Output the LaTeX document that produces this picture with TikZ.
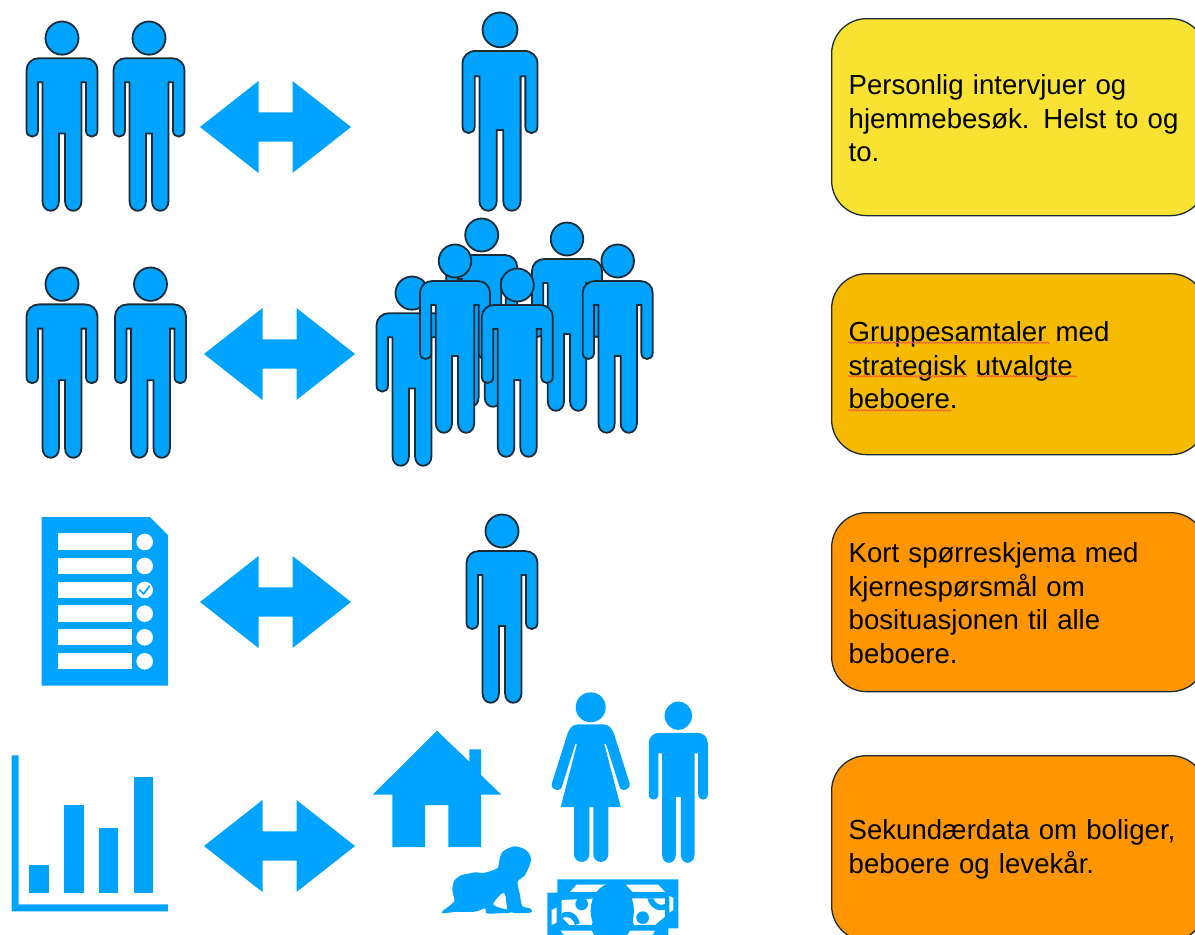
\documentclass[tikz,border=0pt]{standalone}
\usepackage{fontspec}
\setmainfont{Liberation Sans}
\usetikzlibrary{decorations.pathmorphing}
\definecolor{iconblue}{HTML}{00A4FF}
\definecolor{edgedark}{HTML}{1C2B38}
\definecolor{boxyellow}{HTML}{F9E231}
\definecolor{boxamber}{HTML}{F6BA00}
\definecolor{boxorange}{HTML}{FF9500}
\definecolor{spell}{HTML}{F0603A}
\tikzset{
  x=1pt,y=-1pt,
  icon/.style={fill=iconblue,draw=none},
  outlined/.style={fill=iconblue,draw=edgedark,line width=1.8pt},
  infobox/.style={draw=edgedark,line width=1.3pt,rounded corners=35pt,anchor=north west,
    text width=340pt,inner xsep=17pt,inner ysep=0pt,align=left,font=\fontsize{27.6}{33.5}\selectfont,
    text=black,execute at end node={\par\vspace{-2pt}}},
  squiggle/.style={draw=spell,line width=.8pt,decorate,decoration={zigzag,amplitude=.8pt,segment length=3pt}},
  hole/.style={fill=white,draw=none}
}
% person icon: #1 style, #2 centre x, #3 top y, #4 width, #5 height
\newcommand{\personicon}[5]{%
  \begin{scope}[shift={(#2,#3)},xscale=#4/71,yscale=#5/188]
    \path[#1] (0,16) ellipse [x radius=16.5,y radius=16.5];
    \path[#1] (-23,36) -- (23,36) .. controls (30,36) and (35.5,41) .. (35.5,48)
      -- (35.5,108) .. controls (35.5,116) and (24,116) .. (24,108)
      -- (24,60) -- (19.5,60) -- (19.5,178) .. controls (19.5,191) and (3,191) .. (3,178)
      -- (3,111) -- (-3,111) -- (-3,178) .. controls (-3,191) and (-19.5,191) .. (-19.5,178)
      -- (-19.5,60) -- (-24,60) -- (-24,108) .. controls (-24,116) and (-35.5,116) .. (-35.5,108)
      -- (-35.5,48) .. controls (-35.5,41) and (-30,36) .. (-23,36) -- cycle;
  \end{scope}}
% double arrow: #1 centre x, #2 centre y
\newcommand{\twoway}[2]{%
  \path[icon,shift={(#1,#2)}] (-75.5,0) -- (-17,-46) -- (-17,-14.7) -- (17,-14.7) -- (17,-46)
    -- (75.5,0) -- (17,46) -- (17,14.7) -- (-17,14.7) -- (-17,46) -- cycle;}
\newcommand{\chkrow}[3]{%
  \path[hole] (57.7,#1) rectangle (131.7,#2);
  \path[hole] (144.7,#3) circle [radius=8.3];}
\begin{document}
\begin{tikzpicture}
\useasboundingbox (0,0) rectangle (1195,935);
\clip (0,0) rectangle (1195,935);
% row 1
\personicon{outlined}{62}{22}{71}{189}
\personicon{outlined}{149}{22}{71}{189}
\personicon{outlined}{500}{13}{75}{198}
\twoway{275.5}{127}
% row 2
\personicon{outlined}{62}{268}{71}{190}
\personicon{outlined}{150.5}{268}{71}{190}
\twoway{279.5}{354}
\personicon{outlined}{481.7}{219}{71}{188}
\personicon{outlined}{412}{277}{71}{189}
\personicon{outlined}{567}{223}{70}{188}
\personicon{outlined}{455}{245}{70}{188}
\personicon{outlined}{617.7}{245}{70}{188}
\personicon{outlined}{517.3}{269}{71}{188}
% row 3: questionnaire
\path[icon] (41.7,517) -- (150,517) -- (168,535) -- (168,685.7) -- (41.7,685.7) -- cycle;
\chkrow{533.3}{550.3}{542}
\chkrow{557.7}{574}{566}
\chkrow{581.7}{598}{590}
\chkrow{605.3}{621.7}{613.7}
\chkrow{629.3}{645.3}{637.3}
\chkrow{653}{669.3}{661.3}
\path[draw=iconblue,line width=1.7pt,line cap=round,line join=round] (139.5,590) -- (143.5,594) -- (149.5,586);
\twoway{275.5}{602}
\personicon{outlined}{502}{515}{71}{188}
% row 4: chart
\path[icon] (11.7,755.3) -- (18.7,755.3) -- (18.7,904.3) -- (168,904.3) -- (168,911.3) -- (11.7,911.3) -- cycle;
\path[icon] (29.3,865) rectangle (49,893);
\path[icon] (64.3,805) rectangle (83.7,893);
\path[icon] (99,828.3) rectangle (118.3,893);
\path[icon] (133.7,777) rectangle (153,893);
\twoway{279.5}{846}
% house
\path[icon] (437,730.7) -- (469.3,761.7) -- (469.3,749.3) -- (481,749.3) -- (481,775) -- (501.3,794.7)
  -- (481,794.7) -- (481,847) -- (448.3,847) -- (448.3,805) -- (425,805) -- (425,847) -- (392.3,847)
  -- (392.3,794.7) -- (372.7,794.7) -- cycle;
% woman
\path[icon] (590.7,707.3) circle [radius=15];
\path[icon] (578,724.3) -- (603.3,724.3) .. controls (609,724.3) and (613,729) .. (615,737)
  -- (629.5,783) .. controls (631,790) and (622,792) .. (620,788) -- (606,744) -- (604.3,744)
  -- (620.7,807) -- (608.3,807) -- (608.3,854) .. controls (608.3,864.5) and (593.3,864.5) .. (593.3,854)
  -- (593.3,807) -- (589.3,807) -- (589.3,854) .. controls (589.3,864.5) and (574,864.5) .. (574,854)
  -- (574,807) -- (560.7,807) -- (577,744) -- (575.3,744) -- (561.5,788) .. controls (559,792) and (550,790) .. (552,783)
  -- (566.5,737) .. controls (568.5,729) and (572,724.3) .. (578,724.3) -- cycle;
% man
\personicon{icon}{678.3}{702}{59}{161}
% baby
\begin{scope}[shift={(435,840)},x=.3333pt,y=-.3333pt]
\path[icon] plot[smooth cycle,tension=.5] coordinates {(22,214) (40,200) (58,182) (52,150) (58,122) (78,106) (105,100) (120,97) (150,98) (188,84) (192,65) (203,35) (240,19) (275,32) (288,60) (270,105) (248,125) (255,165) (262,198) (285,205) (291,214) (280,219) (240,219) (218,210) (212,170) (205,158) (190,170) (175,193) (200,205) (225,210) (226,218) (190,220) (155,220) (150,205) (120,215) (60,216) (25,220)};
\end{scope}
% money
\begin{scope}[shift={(360,680)},x=.3333pt,y=-.3333pt]
\path[icon] (592,598) -- (955,598) -- (955,745) -- (925,745) -- (925,770) -- (562,770) -- (562,638) -- (592,638) -- cycle;
\path[hole] (650,614) -- (745,614) -- (725,636) -- (630,636) -- cycle;
\path[hole] (798,614) -- (895,614) -- (915,636) -- (818,636) -- cycle;
\path[hole] (605,660) -- (718,655) -- (695,735) -- (628,735) -- (605,712) -- cycle;
\path[hole] (800,655) -- (915,655) -- (915,710) -- (885,735) -- (822,735) -- cycle;
\path[hole] (928,648) -- (940,654) -- (940,690) -- (928,698) -- cycle;
\path[hole] (575,690) -- (590,683) -- (590,728) -- (575,735) -- cycle;
\path[hole] (602,752) -- (695,752) -- (705,770) -- (615,770) -- cycle;
\path[hole] (810,752) -- (885,752) -- (875,770) -- (800,770) -- cycle;
\path[icon] (665,672) circle [radius=19];
\path[icon] (605,700) .. controls (625,690) and (650,695) .. (660,730) -- (645,735) .. controls (640,715) and (625,705) .. (605,715) -- cycle;
\path[icon] (848,713) circle [radius=19];
\path[icon] (915,690) .. controls (895,695) and (870,685) .. (862,655) -- (880,655) .. controls (885,670) and (900,680) .. (915,672) -- cycle;
\path[icon] (757,692) ellipse [x radius=65,y radius=82];
\end{scope}
% text boxes
\node[infobox,fill=boxyellow,minimum height=197pt] (b1) at (831,18) {Personlig intervjuer og\\hjemmebesøk. Helst to og\\to.};
\node[infobox,fill=boxamber,minimum height=181pt] (b2) at (831,273) {Gruppesamtaler med\\strategisk utvalgte\\beboere.};
\node[infobox,fill=boxorange,minimum height=179pt] (b3) at (831,512) {Kort spørreskjema med\\kjernespørsmål om\\bosituasjonen til alle\\beboere.};
\node[infobox,fill=boxorange,minimum height=185pt] (b4) at (831,755) {Sekundærdata om boliger,\\beboere og levekår.};
\path[squiggle] (848.3,342.7) -- (1049.3,342.7);
\path[squiggle] (848.3,376.3) -- (967.7,376.3);
\path[squiggle] (976.7,376.3) -- (1076.7,376.3);
\path[squiggle] (848.3,410.3) -- (951.7,410.3);
\end{tikzpicture}
\end{document}
